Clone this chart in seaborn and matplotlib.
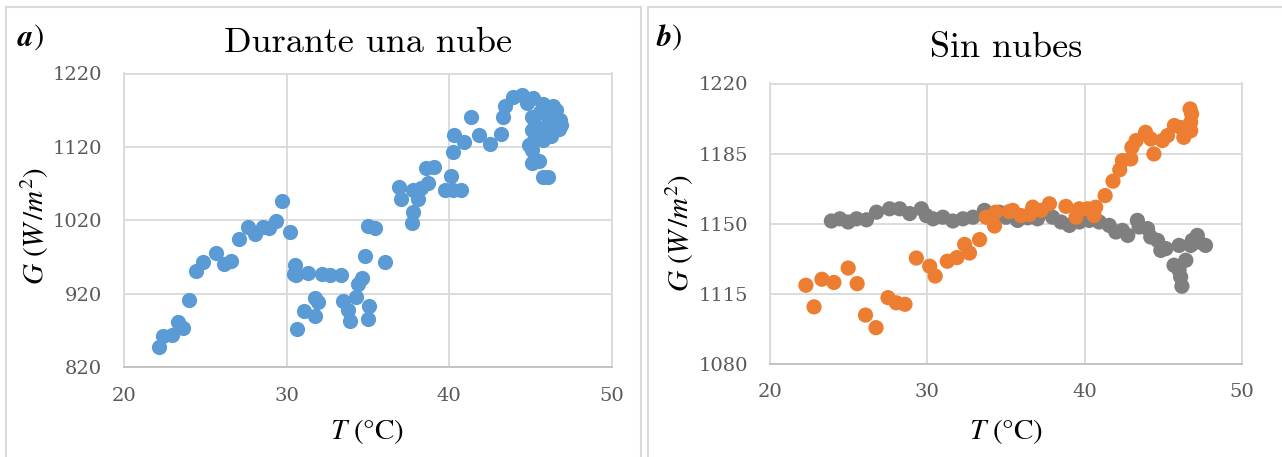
import matplotlib
matplotlib.use("Agg")
import matplotlib.pyplot as plt
import seaborn as sns
import pandas as pd
from matplotlib.patches import Rectangle

# --- a) Durante una nube: temperatura (°C) e irradiancia (W/m²) ---
temp_nube = [22.15, 22.4, 22.97, 23.3, 23.6, 24.0, 24.4, 24.84, 25.64, 26.15,
             26.56, 27.1, 27.65, 28.04, 28.57, 28.94, 29.33, 29.74, 30.23, 30.52,
             30.46, 30.6, 30.65, 31.34, 31.1, 31.73, 31.75, 31.96, 32.2, 32.7,
             33.35, 33.5, 33.8, 33.9, 34.3, 34.4, 34.66, 34.85, 35.04, 35.45,
             35.1, 35.04, 36.06, 37.74, 37.8, 38.1, 37.03, 36.94, 37.8, 38.26,
             38.7, 38.6, 39.1, 40.12, 39.75, 40.27, 40.74, 40.27, 40.33, 40.94,
             41.85, 41.33, 42.5, 43.2, 43.3, 43.45, 43.96, 44.5, 45.15, 45.8,
             46.38, 46.83, 46.79, 46.1, 45.1, 45.1, 45.2, 45.8, 45.1, 45.1,
             45.55, 45.8, 46.1, 45.6, 46.4, 46.0, 45.4, 44.9, 46.6, 46.9,
             45.3, 46.3, 44.8]
irr_nube = [848, 862, 864, 882, 873, 911, 951, 964, 975, 960,
            965, 995, 1011, 1001, 1011, 1009, 1019, 1047, 1004, 959,
            947, 946, 872, 948, 896, 890, 914, 909, 947, 946,
            946, 910, 898, 883, 916, 934, 942, 972, 1013, 1009,
            904, 886, 963, 1016, 1032, 1049, 1049, 1065, 1061, 1064,
            1071, 1092, 1093, 1081, 1062, 1061, 1061, 1113, 1136, 1127,
            1136, 1161, 1124, 1138, 1161, 1176, 1188, 1191, 1186, 1179,
            1176, 1157, 1144, 1161, 1161, 1143, 1129, 1129, 1116, 1098,
            1101, 1079, 1079, 1168, 1166, 1147, 1136, 1122, 1170, 1150,
            1150, 1135, 1180]

# --- b) Sin nubes: dos series ---
temp_naranja = [22.28, 22.8, 23.3, 24.06, 24.97, 25.54, 26.07, 26.74, 27.5, 28.03,
                28.58, 29.3, 30.15, 30.5, 31.27, 31.88, 32.37, 32.68, 33.32, 33.74,
                34.27, 34.33, 35.2, 35.43, 35.96, 36.49, 36.7, 37.23, 37.76, 38.81,
                39.45, 39.66, 40.19, 40.6, 40.7, 41.3, 41.8, 42.23, 42.4, 42.93,
                43.0, 43.27, 43.87, 44.4, 44.2, 44.94, 45.27, 45.7, 46.3, 46.43,
                46.74, 46.74, 46.8, 46.7, 46.1]
irr_naranja = [1119.2, 1108.4, 1122.2, 1120.6, 1127.8, 1120.0, 1104.3, 1098.0, 1113.0, 1110.4,
               1109.7, 1132.8, 1128.7, 1123.8, 1131.2, 1133.0, 1139.6, 1135.3, 1142.0, 1153.2,
               1148.8, 1155.7, 1156.0, 1156.6, 1154.0, 1154.6, 1158.2, 1156.6, 1159.9, 1158.6,
               1153.2, 1157.4, 1157.4, 1154.0, 1158.2, 1164.0, 1171.2, 1176.9, 1181.5, 1182.3,
               1188.1, 1191.5, 1195.6, 1184.8, 1192.3, 1191.5, 1194.0, 1199.0, 1193.1, 1196.4,
               1196.4, 1200.6, 1204.8, 1207.3, 1198.0]
temp_gris = [23.9, 24.44, 24.97, 25.5, 26.13, 26.77, 27.6, 28.24, 28.88, 29.62,
             29.94, 30.36, 30.99, 31.62, 32.26, 32.9, 33.63, 34.58, 35.0, 35.74,
             36.38, 37.0, 37.96, 38.5, 39.03, 39.66, 40.29, 40.93, 41.56, 41.98,
             42.4, 42.74, 43.35, 43.46, 44.0, 44.2, 44.63, 44.84, 45.16, 46.0,
             45.68, 46.0, 46.1, 46.18, 46.43, 46.74, 47.16, 47.26, 47.68, 46.84]
irr_gris = [1151.3, 1152.4, 1150.8, 1152.4, 1151.9, 1155.7, 1157.4, 1157.4, 1155.0, 1157.4,
            1154.0, 1152.4, 1153.2, 1151.3, 1152.4, 1153.2, 1156.6, 1155.7, 1153.2, 1151.6,
            1152.9, 1152.4, 1153.2, 1150.8, 1149.1, 1150.8, 1151.6, 1150.8, 1149.1, 1145.8,
            1146.6, 1144.1, 1151.6, 1148.3, 1147.5, 1143.3, 1141.6, 1136.6, 1137.5, 1139.1,
            1129.2, 1126.7, 1123.3, 1118.7, 1131.7, 1139.1, 1144.1, 1140.8, 1139.1, 1141.6]

ticks_x = [20, 30, 40, 50]
ticks_y_a = [820, 920, 1020, 1120, 1220]
ticks_y_b = [1080, 1115, 1150, 1185, 1220]

titulo_a = "Durante una nube"
titulo_b = "Sin nubes"

AZUL = "#5B9BD5"
NARANJA = "#ED7D31"
GRIS = "#7F7F7F"
REJILLA = "#D9D9D9"
TEXTO_EJE = "#595959"

sns.set_theme(style="white")
plt.rcParams["mathtext.fontset"] = "stix"
plt.rcParams["font.family"] = ["DejaVu Serif", "DejaVu Sans"]

W, H = 1282, 457
fig = plt.figure(figsize=(W / 100, H / 100), dpi=100)


def fx(px):
    return px / W


def fy(py):
    return 1 - py / H


ax_a = fig.add_axes([fx(124), fy(367.3), fx(611.5) - fx(124), fy(73.5) - fy(367.3)])
ax_b = fig.add_axes([fx(770), fy(363.7), fx(1242) - fx(770), fy(83.5) - fy(363.7)])

df_a = pd.DataFrame({"T": temp_nube, "G": irr_nube})
df_b = pd.concat([
    pd.DataFrame({"T": temp_gris, "G": irr_gris, "serie": "gris"}),
    pd.DataFrame({"T": temp_naranja, "G": irr_naranja, "serie": "naranja"}),
], ignore_index=True)

sns.scatterplot(data=df_a, x="T", y="G", ax=ax_a, color=AZUL, s=120,
                linewidth=0, alpha=1, zorder=3)
sns.scatterplot(data=df_b, x="T", y="G", hue="serie", ax=ax_b,
                palette={"gris": GRIS, "naranja": NARANJA}, s=120,
                linewidth=0, alpha=1, legend=False, zorder=3)

for ax, yt in ((ax_a, ticks_y_a), (ax_b, ticks_y_b)):
    ax.set_xlim(ticks_x[0], ticks_x[-1])
    ax.set_ylim(yt[0], yt[-1])
    ax.set_xticks(ticks_x)
    ax.set_yticks(yt)
    ax.grid(True, color=REJILLA, linewidth=1.3, zorder=0)
    ax.set_axisbelow(True)
    for side, sp in ax.spines.items():
        sp.set_visible(True)
        sp.set_color(REJILLA)
        sp.set_linewidth(1.3)
    ax.spines["bottom"].set_color("#BFBFBF")
    ax.tick_params(axis="both", length=0, labelsize=14, labelcolor=TEXTO_EJE)
    ax.tick_params(axis="y", pad=16)
    ax.tick_params(axis="x", pad=14)
    ax.set_xlabel("")
    ax.set_ylabel("")

# Títulos en tipografía Computer Modern
fig.text(fx(367.5), fy(43), titulo_a, family="cmr10", fontsize=26,
         ha="center", va="center", color="black")
fig.text(fx(1006), fy(48), titulo_b, family="cmr10", fontsize=26,
         ha="center", va="center", color="black")

# Etiquetas de ejes
for cx in (367.5, 1006):
    fig.text(fx(cx), fy(432), r"$T\ (°\mathrm{C})$", fontsize=21,
             ha="center", va="center", color="black")
fig.text(fx(35), fy(226), r"$G\ (W\,/m^2)$", fontsize=21, rotation=90,
         ha="center", va="center", color="black")
fig.text(fx(680), fy(233), r"$G\ (W\,/m^2)$", fontsize=21, rotation=90,
         ha="center", va="center", color="black")

# Letras de panel
for lx, letra in ((18, "a"), (656, "b")):
    fig.text(fx(lx), fy(38), letra, family="STIXGeneral", fontweight="bold",
             fontstyle="italic", fontsize=22, ha="left", va="center", color="black")
    fig.text(fx(lx + 15), fy(38), ")", family="STIXGeneral", fontsize=22,
             ha="left", va="center", color="black")

# Marcos de cada gráfico
fig.patches.append(Rectangle((fx(6), fy(470)), fx(641) - fx(6), fy(7) - fy(470),
                             transform=fig.transFigure, fill=False,
                             edgecolor=REJILLA, linewidth=1.5))
fig.patches.append(Rectangle((fx(648), fy(470)), fx(1300) - fx(648), fy(7) - fy(470),
                             transform=fig.transFigure, fill=False,
                             edgecolor=REJILLA, linewidth=1.5))

fig.savefig("out.png", dpi=100, facecolor="white")
